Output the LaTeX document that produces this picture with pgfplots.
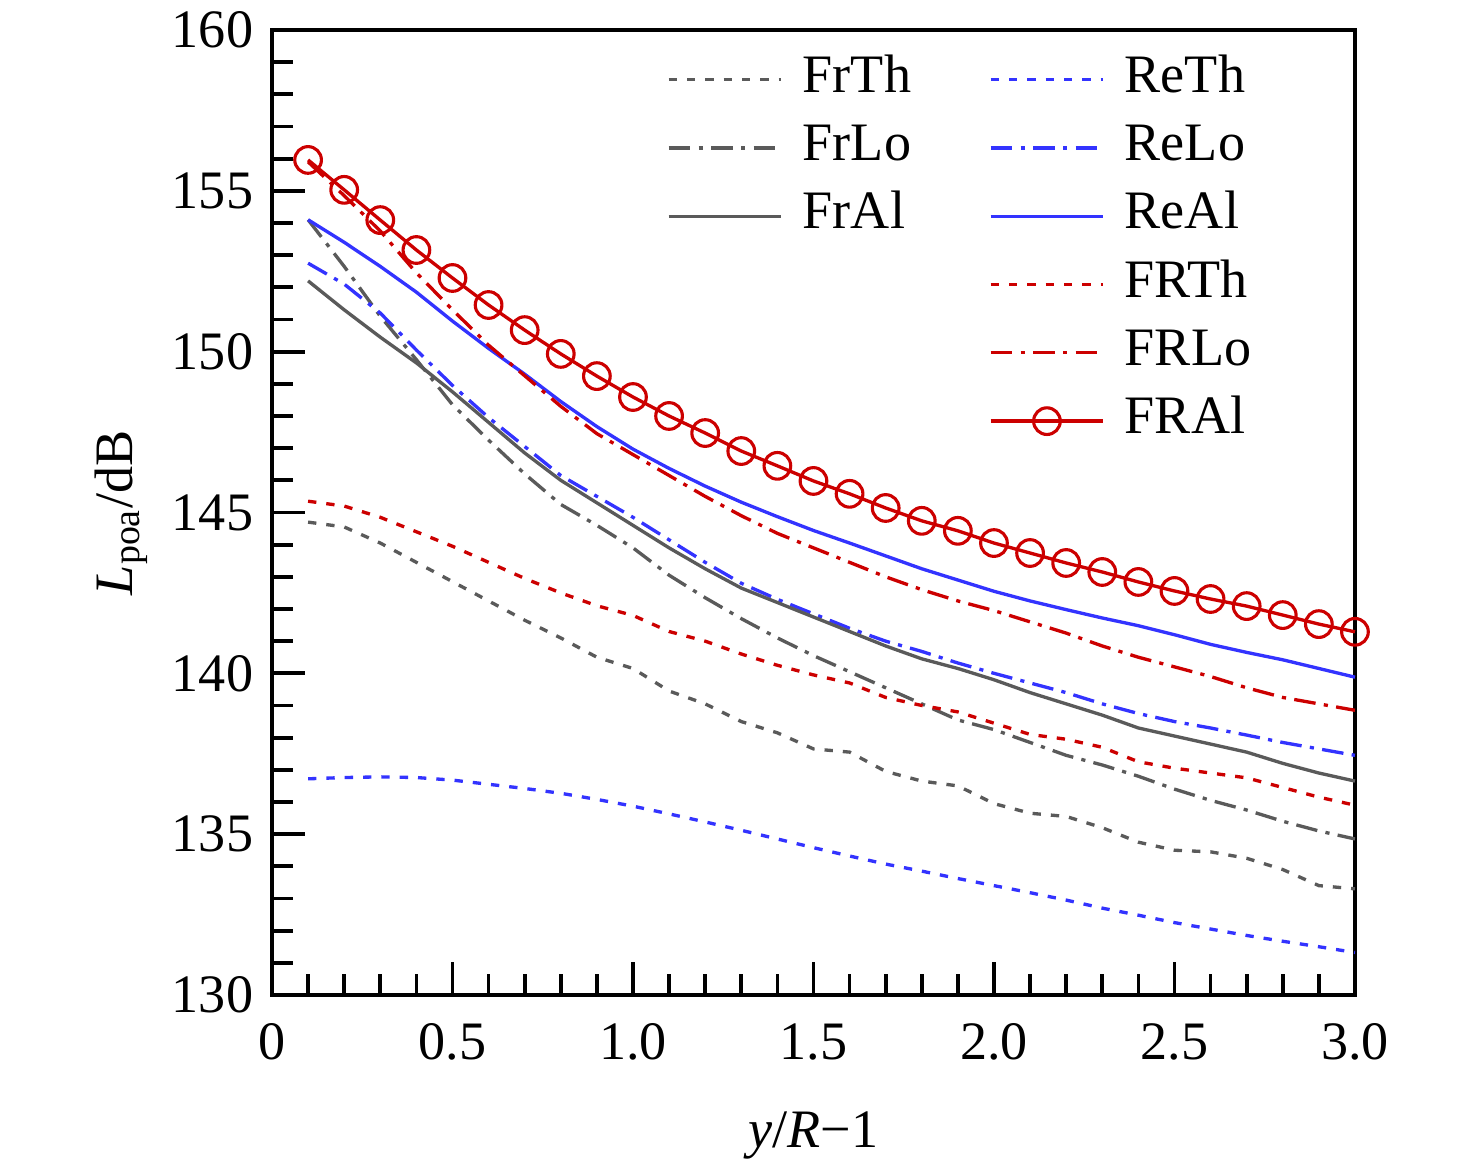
\documentclass[border=0pt]{standalone}
\usepackage{fontspec}
\setmainfont{Liberation Serif}
\usepackage{pgfplots}
\pgfplotsset{compat=1.18}
\definecolor{cgray}{RGB}{90,90,90}
\definecolor{cblue}{RGB}{51,51,255}
\definecolor{cred}{RGB}{204,0,0}
\begin{document}
\fontsize{13}{15.6}\selectfont
\begin{tikzpicture}
\begin{axis}[
  scale only axis,
  width=260pt, height=231.67pt,
  xmin=0, xmax=3, ymin=130, ymax=160,
  xtick={0,0.5,1,1.5,2,2.5,3},
  xticklabels={0,0.5,1.0,1.5,2.0,2.5,3.0},
  ytick={130,135,140,145,150,155,160},
  yticklabels={130,135,140,145,150,155,160},
  minor x tick num=4, minor y tick num=4,
  tick pos=left, tick align=inside,
  major tick length=8pt, minor tick length=5pt,
  every tick/.style={black, line width=0.9pt},
  axis line style={line width=1pt},
  xticklabel style={yshift=-2.4pt},
  xlabel={\textit{y}/\textit{R}−1},
  ylabel={\textit{L}\textsubscript{poa}/dB},
  xlabel style={at={(axis description cs:0.5,-0.1576)}, anchor=base},
  ylabel style={at={(axis description cs:-0.1292,0.5)}, anchor=base, rotate=0},
  clip=false,
  legend columns=2,
  legend cell align=left,
  legend style={draw=none, fill=none, at={(0.3525,0.9935)}, anchor=north west,
    inner xsep=3pt, inner ysep=2pt,
    nodes={inner sep=2pt, text height=9.2pt, text depth=3.2pt},
    /tikz/every odd column/.append style={column sep=2.8pt},
    /tikz/every even column/.append style={column sep=16.7pt}},
  legend image code/.code={\draw[mark repeat=2,mark phase=2,#1] plot coordinates {(0pt,0pt) (13.5pt,0pt) (27pt,0pt)};},
  every axis plot/.append style={line width=0.8pt},
]
% FrTh
\addplot[cgray, dash pattern=on 2pt off 2.4pt] coordinates {
(0.1,144.70)(0.2,144.55)(0.3,144.05)(0.4,143.45)(0.5,142.85)(0.6,142.25)(0.7,141.65)(0.8,141.10)(0.9,140.50)(1.0,140.15)
(1.1,139.45)(1.2,139.05)(1.3,138.50)(1.4,138.15)(1.5,137.65)(1.6,137.55)(1.7,136.95)(1.8,136.65)(1.9,136.50)(2.0,135.95)
(2.1,135.65)(2.2,135.55)(2.3,135.20)(2.4,134.75)(2.5,134.50)(2.6,134.45)(2.7,134.25)(2.8,133.90)(2.9,133.40)(3.0,133.30)};
\addlegendentry{FrTh}
% ReTh
\addplot[cblue, dash pattern=on 2pt off 2.4pt] coordinates {
(0.1,136.72)(0.2,136.76)(0.3,136.78)(0.4,136.76)(0.5,136.68)(0.6,136.55)(0.7,136.42)(0.8,136.27)(0.9,136.08)(1.0,135.87)
(1.1,135.63)(1.2,135.38)(1.3,135.12)(1.4,134.85)(1.5,134.58)(1.6,134.32)(1.7,134.07)(1.8,133.85)(1.9,133.62)(2.0,133.40)
(2.1,133.18)(2.2,132.95)(2.3,132.70)(2.4,132.48)(2.5,132.25)(2.6,132.05)(2.7,131.85)(2.8,131.67)(2.9,131.50)(3.0,131.32)};
\addlegendentry{ReTh}
% FrLo
\addplot[cgray, dash pattern=on 5.2pt off 2pt on 1pt off 2pt] coordinates {
(0.1,154.10)(0.2,152.65)(0.3,151.10)(0.4,149.75)(0.5,148.35)(0.6,147.25)(0.7,146.20)(0.8,145.25)(0.9,144.60)(1.0,143.90)
(1.1,143.05)(1.2,142.35)(1.3,141.70)(1.4,141.10)(1.5,140.55)(1.6,140.05)(1.7,139.55)(1.8,139.05)(1.9,138.55)(2.0,138.25)
(2.1,137.85)(2.2,137.45)(2.3,137.15)(2.4,136.80)(2.5,136.40)(2.6,136.05)(2.7,135.75)(2.8,135.40)(2.9,135.10)(3.0,134.85)};
\addlegendentry{FrLo}
% ReLo
\addplot[cblue, dash pattern=on 5.2pt off 2pt on 1pt off 2pt] coordinates {
(0.1,152.75)(0.2,152.10)(0.3,151.20)(0.4,150.05)(0.5,148.95)(0.6,147.95)(0.7,147.05)(0.8,146.15)(0.9,145.50)(1.0,144.85)
(1.1,144.15)(1.2,143.45)(1.3,142.80)(1.4,142.30)(1.5,141.85)(1.6,141.40)(1.7,141.00)(1.8,140.68)(1.9,140.32)(2.0,140.00)
(2.1,139.70)(2.2,139.40)(2.3,139.05)(2.4,138.75)(2.5,138.50)(2.6,138.30)(2.7,138.08)(2.8,137.85)(2.9,137.65)(3.0,137.45)};
\addlegendentry{ReLo}
% FrAl
\addplot[cgray] coordinates {
(0.1,152.20)(0.2,151.30)(0.3,150.45)(0.4,149.65)(0.5,148.75)(0.6,147.80)(0.7,146.85)(0.8,146.00)(0.9,145.30)(1.0,144.60)
(1.1,143.90)(1.2,143.25)(1.3,142.65)(1.4,142.20)(1.5,141.75)(1.6,141.30)(1.7,140.85)(1.8,140.45)(1.9,140.15)(2.0,139.80)
(2.1,139.40)(2.2,139.05)(2.3,138.70)(2.4,138.30)(2.5,138.05)(2.6,137.80)(2.7,137.55)(2.8,137.20)(2.9,136.90)(3.0,136.65)};
\addlegendentry{FrAl}
% ReAl
\addplot[cblue] coordinates {
(0.1,154.10)(0.2,153.40)(0.3,152.65)(0.4,151.85)(0.5,150.95)(0.6,150.10)(0.7,149.30)(0.8,148.45)(0.9,147.67)(1.0,146.97)
(1.1,146.37)(1.2,145.82)(1.3,145.32)(1.4,144.87)(1.5,144.44)(1.6,144.05)(1.7,143.65)(1.8,143.25)(1.9,142.90)(2.0,142.55)
(2.1,142.25)(2.2,141.98)(2.3,141.72)(2.4,141.48)(2.5,141.20)(2.6,140.90)(2.7,140.65)(2.8,140.42)(2.9,140.15)(3.0,139.88)};
\addlegendentry{ReAl}
\addlegendimage{empty legend}\addlegendentry{}
% FRTh
\addplot[cred, dash pattern=on 2pt off 2.4pt] coordinates {
(0.1,145.35)(0.2,145.20)(0.3,144.85)(0.4,144.40)(0.5,143.95)(0.6,143.45)(0.7,142.95)(0.8,142.50)(0.9,142.10)(1.0,141.80)
(1.1,141.30)(1.2,141.00)(1.3,140.60)(1.4,140.25)(1.5,139.95)(1.6,139.70)(1.7,139.25)(1.8,139.00)(1.9,138.80)(2.0,138.45)
(2.1,138.10)(2.2,137.95)(2.3,137.70)(2.4,137.25)(2.5,137.05)(2.6,136.90)(2.7,136.75)(2.8,136.45)(2.9,136.15)(3.0,135.90)};
\addlegendentry{FRTh}
\addlegendimage{empty legend}\addlegendentry{}
% FRLo
\addplot[cred, dash pattern=on 5.2pt off 2pt on 1pt off 2pt] coordinates {
(0.1,155.90)(0.2,154.85)(0.3,153.75)(0.4,152.45)(0.5,151.30)(0.6,150.20)(0.7,149.25)(0.8,148.30)(0.9,147.45)(1.0,146.80)
(1.1,146.15)(1.2,145.50)(1.3,144.90)(1.4,144.35)(1.5,143.90)(1.6,143.45)(1.7,143.00)(1.8,142.60)(1.9,142.25)(2.0,141.95)
(2.1,141.60)(2.2,141.25)(2.3,140.85)(2.4,140.50)(2.5,140.20)(2.6,139.90)(2.7,139.55)(2.8,139.25)(2.9,139.05)(3.0,138.85)};
\addlegendentry{FRLo}
\addlegendimage{empty legend}\addlegendentry{}
% FRAl
\addplot[cred, mark=o, mark size=3.2pt, mark options={line width=0.75pt, solid}] coordinates {
(0.1,155.96)(0.2,155.03)(0.3,154.09)(0.4,153.16)(0.5,152.29)(0.6,151.45)(0.7,150.67)(0.8,149.93)(0.9,149.24)(1.0,148.59)
(1.1,148.00)(1.2,147.47)(1.3,146.91)(1.4,146.45)(1.5,145.98)(1.6,145.58)(1.7,145.14)(1.8,144.74)(1.9,144.43)(2.0,144.05)
(2.1,143.74)(2.2,143.43)(2.3,143.15)(2.4,142.84)(2.5,142.56)(2.6,142.31)(2.7,142.09)(2.8,141.81)(2.9,141.53)(3.0,141.29)};
\addlegendentry{FRAl}
\end{axis}
\pgfresetboundingbox
\path (-65.3pt,-39.85pt) rectangle (289.05pt,238.87pt);
\end{tikzpicture}
\end{document}
